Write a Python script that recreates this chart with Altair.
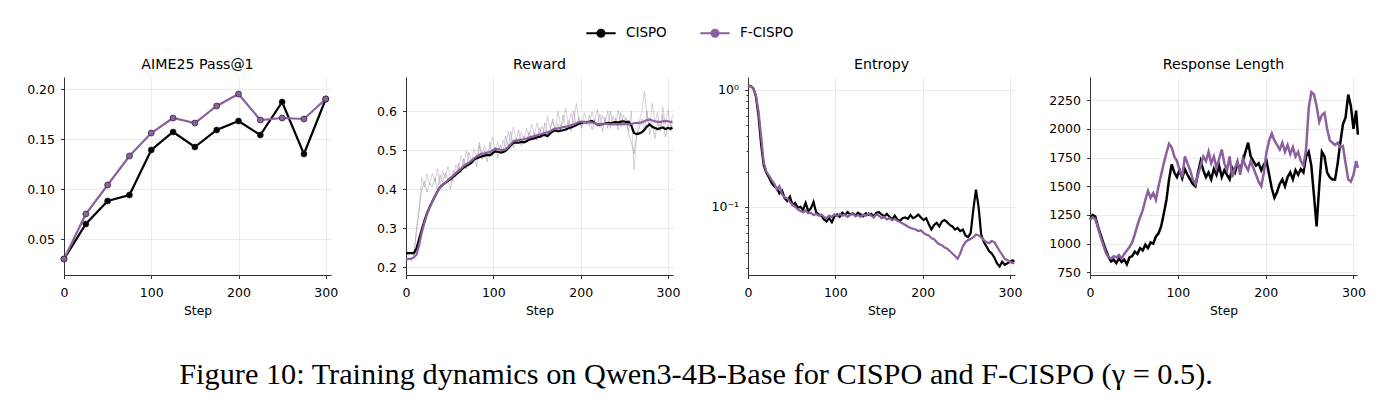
import altair as alt
import pandas as pd

BLACK = "#000000"
PURPLE = "#8c5f9f"
METHODS = ["CISPO", "F-CISPO"]

# ---- AIME25 Pass@1 (evaluated every 25 steps) ----
aime_steps = [0, 25, 50, 75, 100, 125, 150, 175, 200, 225, 250, 275, 300]
aime_cispo = [0.030, 0.065, 0.088, 0.094, 0.139, 0.157, 0.142, 0.159, 0.168, 0.154, 0.187, 0.135, 0.190]
aime_fcispo = [0.030, 0.075, 0.104, 0.133, 0.156, 0.171, 0.166, 0.183, 0.195, 0.169, 0.171, 0.170, 0.190]

# ---- training curves, logged every 3 steps ----
steps = list(range(0, 304, 3)) + [305]

reward_cispo = [
    0.236, 0.236, 0.236, 0.236, 0.248, 0.272, 0.296, 0.318, 0.338, 0.354,
    0.368, 0.381, 0.394, 0.405, 0.411, 0.416, 0.421, 0.426, 0.432, 0.437,
    0.443, 0.449, 0.455, 0.460, 0.463, 0.468, 0.476, 0.479, 0.482, 0.484,
    0.486, 0.488, 0.487, 0.492, 0.497, 0.496, 0.494, 0.495, 0.498, 0.505,
    0.512, 0.519, 0.520, 0.519, 0.521, 0.520, 0.523, 0.527, 0.529, 0.530,
    0.533, 0.534, 0.538, 0.539, 0.536, 0.543, 0.548, 0.551, 0.548, 0.550,
    0.551, 0.553, 0.556, 0.558, 0.561, 0.564, 0.568, 0.570, 0.572, 0.571,
    0.573, 0.575, 0.570, 0.566, 0.565, 0.567, 0.568, 0.570, 0.569, 0.571,
    0.572, 0.571, 0.573, 0.574, 0.572, 0.573, 0.563, 0.544, 0.541, 0.543,
    0.546, 0.552, 0.561, 0.566, 0.560, 0.557, 0.554, 0.556, 0.558, 0.554,
    0.557, 0.555, 0.558,
]
reward_fcispo = [
    0.219, 0.221, 0.222, 0.225, 0.232, 0.256, 0.288, 0.313, 0.335, 0.352,
    0.367, 0.381, 0.394, 0.404, 0.411, 0.417, 0.423, 0.429, 0.435, 0.441,
    0.447, 0.453, 0.459, 0.464, 0.468, 0.473, 0.479, 0.484, 0.488, 0.491,
    0.492, 0.494, 0.495, 0.499, 0.503, 0.503, 0.501, 0.500, 0.502, 0.508,
    0.516, 0.523, 0.525, 0.526, 0.527, 0.528, 0.530, 0.532, 0.534, 0.536,
    0.538, 0.540, 0.542, 0.544, 0.546, 0.548, 0.553, 0.555, 0.556, 0.557,
    0.559, 0.560, 0.562, 0.564, 0.566, 0.569, 0.572, 0.573, 0.572, 0.571,
    0.572, 0.571, 0.569, 0.567, 0.566, 0.566, 0.567, 0.567, 0.566, 0.567,
    0.566, 0.566, 0.567, 0.566, 0.567, 0.566, 0.567, 0.569, 0.570, 0.570,
    0.571, 0.574, 0.577, 0.579, 0.576, 0.574, 0.573, 0.572, 0.574, 0.575,
    0.574, 0.572, 0.573,
]
reward_cispo_raw = [
    0.236, 0.230, 0.238, 0.228, 0.300, 0.355, 0.398, 0.420, 0.392, 0.415,
    0.405, 0.428, 0.398, 0.436, 0.418, 0.442, 0.424, 0.400, 0.448, 0.430,
    0.466, 0.441, 0.478, 0.452, 0.494, 0.470, 0.482, 0.458, 0.512, 0.476,
    0.498, 0.470, 0.520, 0.486, 0.508, 0.480, 0.514, 0.492, 0.536, 0.510,
    0.548, 0.506, 0.524, 0.552, 0.512, 0.536, 0.520, 0.548, 0.528, 0.544,
    0.526, 0.558, 0.532, 0.570, 0.540, 0.552, 0.580, 0.546, 0.568, 0.552,
    0.590, 0.554, 0.576, 0.548, 0.600, 0.562, 0.585, 0.556, 0.578, 0.566,
    0.590, 0.552, 0.578, 0.560, 0.592, 0.548, 0.584, 0.556, 0.600, 0.562,
    0.582, 0.552, 0.596, 0.566, 0.584, 0.540, 0.520, 0.490, 0.540, 0.556,
    0.580, 0.548, 0.600, 0.540, 0.566, 0.530, 0.572, 0.548, 0.590, 0.534,
    0.566, 0.548, 0.572,
]
reward_fcispo_raw = [
    0.219, 0.226, 0.214, 0.232, 0.290, 0.340, 0.430, 0.405, 0.438, 0.412,
    0.440, 0.420, 0.452, 0.410, 0.446, 0.428, 0.458, 0.432, 0.420, 0.462,
    0.450, 0.486, 0.462, 0.498, 0.474, 0.470, 0.504, 0.480, 0.520, 0.490,
    0.512, 0.488, 0.500, 0.534, 0.498, 0.522, 0.490, 0.526, 0.506, 0.548,
    0.522, 0.560, 0.530, 0.516, 0.546, 0.526, 0.556, 0.534, 0.566, 0.538,
    0.570, 0.544, 0.562, 0.536, 0.586, 0.556, 0.574, 0.550, 0.600, 0.562,
    0.572, 0.608, 0.560, 0.594, 0.570, 0.620, 0.576, 0.560, 0.596, 0.574,
    0.560, 0.598, 0.574, 0.604, 0.558, 0.590, 0.570, 0.600, 0.556, 0.588,
    0.568, 0.602, 0.560, 0.590, 0.572, 0.548, 0.600, 0.450, 0.530, 0.574,
    0.598, 0.650, 0.586, 0.560, 0.620, 0.570, 0.596, 0.552, 0.610, 0.566,
    0.604, 0.560, 0.590,
]

entropy_cispo = [
    1.08, 1.07, 1.03, 0.88, 0.60, 0.34, 0.225, 0.195, 0.178, 0.160,
    0.150, 0.145, 0.130, 0.138, 0.118, 0.112, 0.122, 0.104, 0.108, 0.098,
    0.100, 0.094, 0.108, 0.092, 0.097, 0.110, 0.090, 0.086, 0.084, 0.078,
    0.075, 0.080, 0.074, 0.083, 0.086, 0.082, 0.089, 0.085, 0.090, 0.086,
    0.088, 0.084, 0.089, 0.086, 0.083, 0.088, 0.085, 0.087, 0.083, 0.089,
    0.090, 0.086, 0.083, 0.087, 0.082, 0.078, 0.084, 0.078, 0.076, 0.080,
    0.081, 0.079, 0.085, 0.080, 0.082, 0.086, 0.081, 0.077, 0.080, 0.071,
    0.064, 0.070, 0.073, 0.068, 0.075, 0.077, 0.074, 0.070, 0.068, 0.064,
    0.066, 0.062, 0.064, 0.057, 0.055, 0.060, 0.095, 0.140, 0.100, 0.058,
    0.050, 0.046, 0.042, 0.040, 0.037, 0.033, 0.031, 0.034, 0.032, 0.033,
    0.034, 0.035, 0.034,
]
entropy_fcispo = [
    1.08, 1.06, 1.03, 0.90, 0.66, 0.40, 0.24, 0.20, 0.185, 0.170,
    0.158, 0.140, 0.150, 0.128, 0.120, 0.118, 0.110, 0.104, 0.100, 0.095,
    0.092, 0.090, 0.093, 0.088, 0.089, 0.085, 0.087, 0.084, 0.086, 0.082,
    0.080, 0.084, 0.082, 0.086, 0.083, 0.087, 0.084, 0.086, 0.082, 0.085,
    0.087, 0.083, 0.085, 0.082, 0.086, 0.084, 0.088, 0.084, 0.081, 0.086,
    0.084, 0.080, 0.082, 0.078, 0.080, 0.077, 0.079, 0.076, 0.074, 0.072,
    0.070, 0.068, 0.066, 0.065, 0.064, 0.062, 0.063, 0.060, 0.058, 0.057,
    0.054, 0.053, 0.050, 0.048, 0.047, 0.045, 0.044, 0.042, 0.040, 0.038,
    0.036, 0.040, 0.046, 0.050, 0.052, 0.053, 0.055, 0.058, 0.057, 0.055,
    0.052, 0.050, 0.049, 0.051, 0.050, 0.046, 0.042, 0.039, 0.036, 0.035,
    0.034, 0.033, 0.033,
]

length_cispo = [
    1210, 1250, 1235, 1150, 1080, 1010, 945, 885, 845, 860,
    830, 870, 840, 860, 820, 880, 890, 930, 910, 960,
    940, 990, 960, 1010, 1000, 1060, 1090, 1150, 1260, 1380,
    1560, 1690, 1620, 1580, 1640, 1570, 1650, 1600, 1560, 1520,
    1500, 1620, 1720, 1640, 1580, 1620, 1560, 1650, 1600, 1680,
    1580, 1640, 1600, 1560, 1660, 1620, 1700, 1640, 1720, 1800,
    1880, 1760, 1720, 1680, 1700, 1640, 1690, 1720, 1600, 1480,
    1400, 1450, 1520, 1560, 1500, 1580, 1620, 1560, 1640, 1600,
    1650, 1620, 1760, 1800, 1680, 1420, 1150, 1500, 1800, 1760,
    1620, 1580, 1560, 1560, 1700, 1880, 2040, 2100, 2300, 2200,
    2000, 2160, 1950,
]
length_fcispo = [
    1210, 1230, 1215, 1140, 1060, 990, 920, 880, 870, 890,
    880, 900, 870, 910, 940, 970, 1010, 1080, 1160, 1230,
    1290, 1380, 1460, 1400, 1440, 1380, 1500, 1600, 1700, 1790,
    1870, 1840, 1760, 1720, 1640, 1580, 1760, 1700, 1640, 1560,
    1520, 1600, 1680, 1760, 1720, 1800, 1700, 1760, 1660, 1740,
    1820, 1700, 1640, 1760, 1580, 1660, 1720, 1600, 1740, 1680,
    1640, 1720, 1660, 1600, 1540, 1500, 1620, 1800, 1900, 1960,
    1900, 1860, 1820, 1880, 1800, 1860, 1780, 1840, 1760, 1800,
    1720, 1680, 1820, 2180, 2320, 2300, 2200, 2060, 2120, 2140,
    2000, 1900, 1880, 1860, 1880, 1840, 1850, 1700, 1560, 1540,
    1600, 1720, 1660,
]


def long_table(xs, a, b):
    return pd.DataFrame({
        "step": list(xs) * 2,
        "value": list(a) + list(b),
        "method": ["CISPO"] * len(a) + ["F-CISPO"] * len(b),
    })


W, H = 267, 198
FONT = "DejaVu Sans"

# legend symbol: short line with a dot in the middle
LEGEND_PATH = ("M-1,0L1,0M0.24,0A0.24,0.24 0 1,1 -0.24,0"
               "A0.24,0.24 0 1,1 0.24,0Z")
legend = alt.Legend(
    title=None, orient="none", direction="horizontal",
    legendX=521, legendY=-60, symbolType=LEGEND_PATH, symbolSize=860,
    symbolStrokeWidth=2, labelFont=FONT, labelFontSize=13.5,
    labelColor="black", columnPadding=29, labelOffset=9,
)
color = alt.Color("method:N", scale=alt.Scale(domain=METHODS, range=[BLACK, PURPLE]),
                  legend=legend)


def x_enc(xmax):
    return alt.X("step:Q", title="Step",
                 scale=alt.Scale(domain=[0, xmax], nice=False, zero=False),
                 axis=alt.Axis(values=[0, 100, 200, 300], labelFlush=False,
                               labelPadding=8))


def panel_title(t):
    return alt.TitleParams(t, font=FONT, fontSize=14.2, fontWeight="normal",
                           color="black", offset=5)


# AIME25 panel: lines with dot markers
aime_df = long_table(aime_steps, aime_cispo, aime_fcispo)
aime_y = alt.Y("value:Q", title=None,
               scale=alt.Scale(domain=[0.014, 0.212], nice=False, zero=False),
               axis=alt.Axis(values=[0.05, 0.10, 0.15, 0.20], format=".2f"))
aime_base = alt.Chart(aime_df).encode(x=x_enc(306), y=aime_y, color=color)
aime = alt.layer(
    aime_base.mark_line(strokeWidth=2.2),
    aime_base.mark_point(filled=True, size=36, opacity=1, stroke="#2b2230",
                         strokeWidth=0.7),
).properties(width=W, height=H, title=panel_title("AIME25 Pass@1"))

# Reward panel: raw curves faint, smoothed curves on top
reward_df = long_table(steps, reward_cispo, reward_fcispo)
raw_c = pd.DataFrame({"step": steps, "value": reward_cispo_raw})
raw_f = pd.DataFrame({"step": steps, "value": reward_fcispo_raw})
reward_y = alt.Y("value:Q", title=None,
                 scale=alt.Scale(domain=[0.18, 0.6875], nice=False, zero=False),
                 axis=alt.Axis(values=[0.2, 0.3, 0.4, 0.5, 0.6], format=".1f"))
reward = alt.layer(
    alt.Chart(raw_c).mark_line(strokeWidth=1, color=BLACK, opacity=0.2).encode(
        x=x_enc(305.7), y=reward_y),
    alt.Chart(raw_f).mark_line(strokeWidth=1, color=PURPLE, opacity=0.3).encode(
        x=x_enc(305.7), y=reward_y),
    alt.Chart(reward_df).mark_line(strokeWidth=2.2).encode(
        x=x_enc(305.7), y=reward_y, color=color),
).properties(width=W, height=H, title=panel_title("Reward"))

# Entropy panel on a log axis
entropy_df = long_table(steps, entropy_cispo, entropy_fcispo)
log_ticks = [0.03, 0.04, 0.05, 0.06, 0.07, 0.08, 0.09, 0.1,
             0.2, 0.3, 0.4, 0.5, 0.6, 0.7, 0.8, 0.9, 1.0]
major = "abs(datum.value - 1) < 1e-9 || abs(datum.value - 0.1) < 1e-9"
entropy_y = alt.Y(
    "value:Q", title=None,
    scale=alt.Scale(type="log", domain=[0.0262, 1.28], nice=False),
    axis=alt.Axis(
        values=log_ticks,
        labelExpr="abs(datum.value - 1) < 1e-9 ? '10⁰' : "
                  "(abs(datum.value - 0.1) < 1e-9 ? '10⁻¹' : '')",
        tickSize={"condition": {"test": major, "value": 3.5}, "value": 2},
        gridOpacity={"condition": {"test": major, "value": 1}, "value": 0},
    ),
)
entropy = alt.Chart(entropy_df).mark_line(strokeWidth=2.2).encode(
    x=x_enc(305.7), y=entropy_y, color=color,
).properties(width=W, height=H, title=panel_title("Entropy"))

# Response length panel
length_df = long_table(steps, length_cispo, length_fcispo)
length_y = alt.Y("value:Q", title=None,
                 scale=alt.Scale(domain=[726, 2453], nice=False, zero=False),
                 axis=alt.Axis(values=[750, 1000, 1250, 1500, 1750, 2000, 2250],
                               format="d"))
length = alt.Chart(length_df).mark_line(strokeWidth=2.5).encode(
    x=x_enc(304), y=length_y, color=color,
).properties(width=W, height=H, title=panel_title("Response Length"))

chart = alt.hconcat(aime, reward, entropy, length, spacing=75, bounds="flush").properties(
    padding={"left": 26, "top": 17, "right": 5, "bottom": 5},
    title=alt.TitleParams(
        "Figure 10: Training dynamics on Qwen3-4B-Base for CISPO and F-CISPO (γ = 0.5).",
        orient="bottom", anchor="middle", font="Liberation Serif", fontSize=30.3,
        fontWeight="normal", color="black", offset=44,
    ),
).configure_view(stroke=None).configure_axis(
    labelFont=FONT, labelFontSize=12.5, labelColor="black",
    titleFont=FONT, titleFontSize=12.3, titleFontWeight="normal", titleColor="black",
    titlePadding=5, domainColor="#333333", domainWidth=1, tickColor="#333333",
    tickSize=3.5, tickWidth=1, labelPadding=6, gridColor="#e6e6e6", gridWidth=0.8,
).configure_axisX(labelFlush=False)

chart.save("out.html", embed_options={"renderer": "svg", "actions": False})
